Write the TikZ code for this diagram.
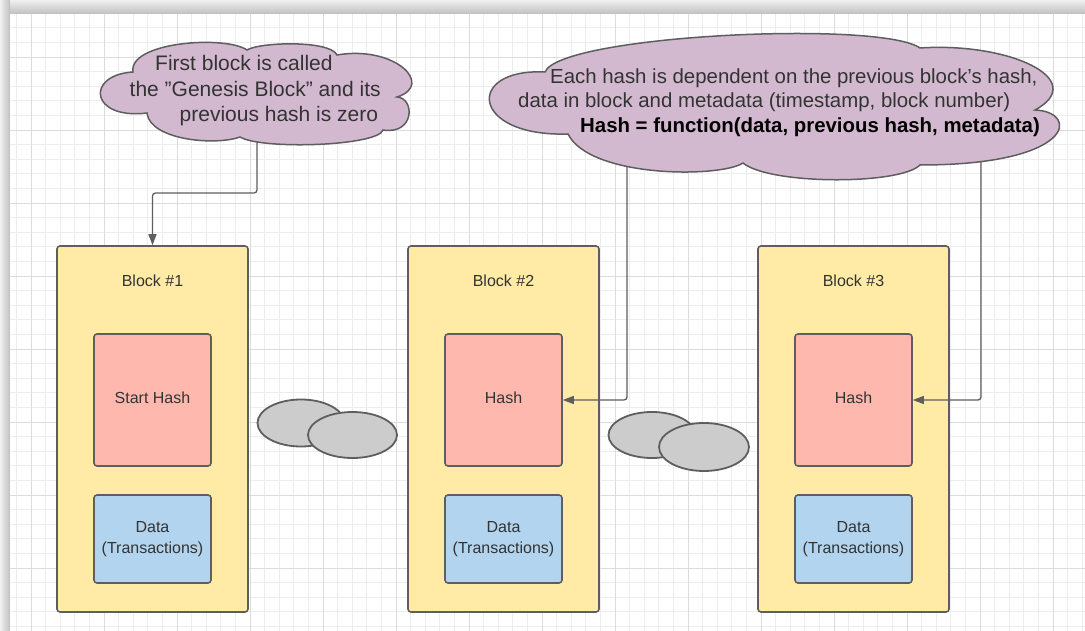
\documentclass[tikz,border=0pt]{standalone}
\usepackage{fontspec}
\setmainfont{Liberation Sans}
\usetikzlibrary{arrows.meta,calc,shapes.geometric}
\definecolor{txt}{HTML}{333333}
\definecolor{edge}{HTML}{5E5E5E}
\definecolor{cloudfill}{HTML}{D3B9CF}
\definecolor{blockfill}{HTML}{FFEBA6}
\definecolor{hashfill}{HTML}{FFB8AE}
\definecolor{datafill}{HTML}{B2D4EE}
\definecolor{linkfill}{HTML}{CCCCCC}
\definecolor{gridminor}{HTML}{EDEDED}
\definecolor{gridmajor}{HTML}{DCDCDC}
\tikzset{
  blockbox/.style={draw=edge, line width=1.6pt, fill=blockfill, rounded corners=3pt,
    minimum width=191pt, minimum height=366pt, inner sep=0pt},
  hashbox/.style={draw=edge, line width=1.6pt, fill=hashfill, rounded corners=3pt,
    minimum width=117pt, minimum height=132pt, inner sep=0pt, text=txt,
    font=\fontsize{16}{20}\selectfont, text height=11.5pt, text depth=4pt},
  databox/.style={draw=edge, line width=1.6pt, fill=datafill, rounded corners=3pt,
    minimum width=117pt, minimum height=88pt, inner sep=0pt, text=txt, align=center,
    font=\fontsize{16}{21}\selectfont},
  title/.style={anchor=base, inner sep=0pt, text=txt, font=\fontsize{16}{20}\selectfont},
  linkring/.style={draw=edge, line width=1.8pt, fill=linkfill, ellipse, inner sep=0pt},
  cloudshape/.style={draw=edge, line width=1.5pt, fill=cloudfill},
  cloudtext/.style={anchor=base west, inner sep=0pt, text=txt, font=\fontsize{20.4}{24}\selectfont},
  conn/.style={draw=edge, line width=1.3pt, rounded corners=3pt, -{Triangle[length=11pt,width=8pt]}},
}
\begin{document}
\begin{tikzpicture}[x=1pt,y=-1pt]
\useasboundingbox (0,0) rectangle (1085,631);
% frame shadow
\fill[white] (0,0) rectangle (1085,631);
\shade[top color=gray!12, bottom color=gray!50] (0,0) rectangle (1085,14);
\shade[left color=gray!12, right color=gray!50] (0,0) rectangle (10,631);
\fill[white] (10,14) rectangle (1085,631);
% grid
\foreach \k in {-16,...,57} \draw[gridminor, line width=0.8pt] ({250+14.6*\k},14) -- ({250+14.6*\k},631);
\foreach \k in {-12,...,29} \draw[gridminor, line width=0.8pt] (10,{203+14.6*\k}) -- (1085,{203+14.6*\k});
\foreach \k in {-15,-10,...,55} \draw[gridmajor, line width=0.8pt] ({250+14.6*\k},14) -- ({250+14.6*\k},631);
\foreach \k in {-10,-5,...,25} \draw[gridmajor, line width=0.8pt] (10,{203+14.6*\k}) -- (1085,{203+14.6*\k});

% blocks
\foreach \i/\x/\h in {1/152.5/Start Hash,2/503.5/Hash,3/853.5/Hash} {
  \node[blockbox] (b\i) at (\x,429) {};
  \node[title] (t\i) at (\x,287) {Block \#\i};
  \node[hashbox] (h\i) at (\x,400) {\h};
  \node[databox] (d\i) at (\x,539) {Data\\(Transactions)};
}

% chain links
\node[linkring, minimum width=87pt, minimum height=47pt] (l1a) at (301,423) {};
\node[linkring, minimum width=89pt, minimum height=46pt] (l1b) at (352.5,435) {};
\node[linkring, minimum width=87pt, minimum height=46pt] (l2a) at (652,435) {};
\node[linkring, minimum width=90pt, minimum height=48pt] (l2b) at (704,447) {};

% connectors (start inside clouds, covered by cloud fill)
\coordinate (c1b) at (257,130);
\coordinate (c2l) at (627,150);
\coordinate (c2r) at (981,150);
\draw[conn] (c1b) -- ++(0,63) -| (b1.north);
\draw[conn] (c2l) |- (h2.east);
\draw[conn] (c2r) |- (h3.east);

% cloud 1
\draw[cloudshape] (133,72)
  .. controls (128,42) and (225,35) .. (247,50)
  .. controls (260,42) and (330,40) .. (337,55)
  .. controls (395,45) and (435,85) .. (397,97)
  .. controls (415,98) and (415,135) .. (383,130)
  .. controls (378,146) and (262,150) .. (240,137)
  .. controls (215,146) and (150,140) .. (147,113)
  .. controls (90,120) and (85,75) .. cycle;
\node[cloudtext, font=\fontsize{21}{25}\selectfont] (g1) at (155,71) {First block is called};
\node[cloudtext, font=\fontsize{21}{25}\selectfont] (g2) at (129.5,97) {the "Genesis Block" and its};
\node[cloudtext, font=\fontsize{21}{25}\selectfont] (g3) at (179.5,122) {previous hash is zero};

% cloud 2
\draw[cloudshape] (545,72)
  .. controls (560,35) and (880,20) .. (920,48)
  .. controls (1010,42) and (1090,80) .. (1035,110)
  .. controls (1080,112) and (1075,165) .. (920,165)
  .. controls (900,185) and (770,185) .. (743,163)
  .. controls (720,178) and (590,178) .. (568,134)
  .. controls (470,137) and (465,68) .. cycle;
\node[cloudtext] (e1) at (550,84) {Each hash is dependent on the previous block's hash,};
\node[cloudtext] (e2) at (518,108) {data in block and metadata (timestamp, block number)};
\node[cloudtext, text=black, font=\fontsize{20.4}{24}\selectfont\bfseries] (e3) at (580,133) {Hash = function(data, previous hash, metadata)};
\end{tikzpicture}
\end{document}
